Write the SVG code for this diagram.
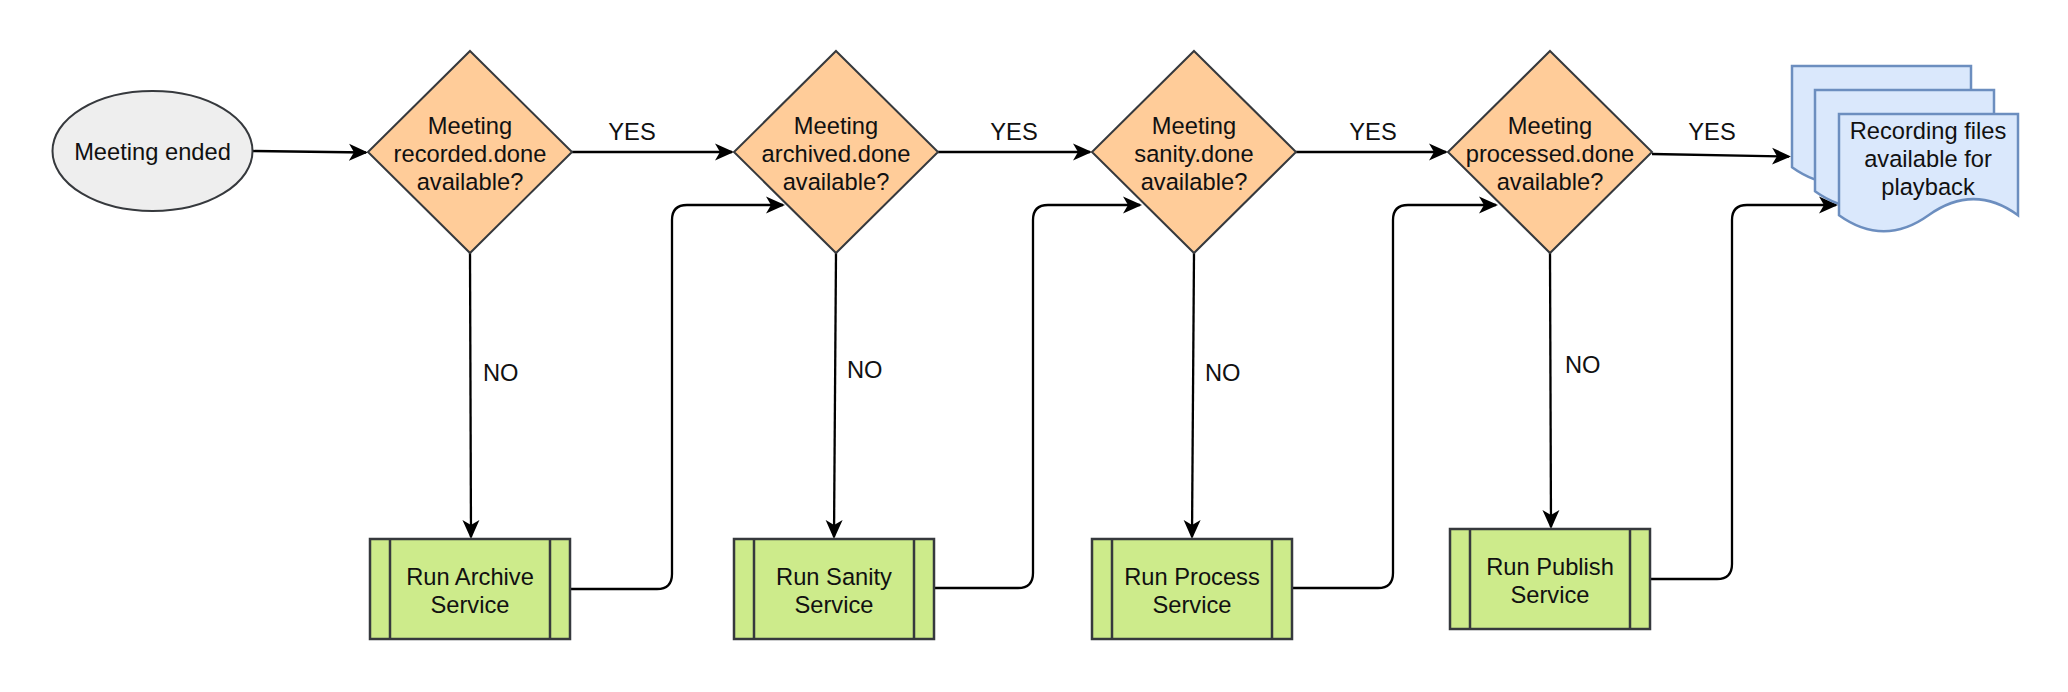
<svg xmlns="http://www.w3.org/2000/svg" width="2068" height="692" viewBox="0 0 2068 692">
<style>
  text { font-family: "Liberation Sans", Arial, sans-serif; font-size: 23.7px; fill: #111; }
  .c { text-anchor: middle; }
  .dia { fill: #ffcc99; stroke: #36393d; stroke-width: 2; }
  .proc { fill: #cdeb8b; stroke: #36393d; stroke-width: 2.5; }
  .doc { fill: #dae8fc; stroke: #6c8ebf; stroke-width: 2.5; }
  .start { fill: #eeeeee; stroke: #36393d; stroke-width: 2; }
  .edge { fill: none; stroke: #000; stroke-width: 2.3; marker-end: url(#arr); }
</style>
<defs>
  <marker id="arr" markerUnits="userSpaceOnUse" markerWidth="20" markerHeight="20" viewBox="0 0 20 20" refX="17" refY="9" orient="auto">
    <path d="M0,0.5 L19,9 L0,17.5 L5,9 Z" fill="#000"/>
  </marker>
</defs>
<rect width="2068" height="692" fill="#ffffff"/>

<g id="connectors">
  <path class="edge" d="M253,151 L366,152.5"/>
  <path class="edge" d="M572,152 L732,152"/>
  <path class="edge" d="M938,152 L1090,152"/>
  <path class="edge" d="M1296,152 L1446,152"/>
  <path class="edge" d="M1652,154 L1789,156.5"/>
  <path class="edge" d="M470,253 L471,537"/>
  <path class="edge" d="M836,253 L834,537"/>
  <path class="edge" d="M1194,253 L1192,537"/>
  <path class="edge" d="M1550,253 L1551,527"/>
  <path class="edge" d="M570,589 H657 Q672,589 672,574 V220 Q672,205 687,205 H783"/>
  <path class="edge" d="M934,588 H1018 Q1033,588 1033,573 V220 Q1033,205 1048,205 H1140"/>
  <path class="edge" d="M1292,588 H1378 Q1393,588 1393,573 V220 Q1393,205 1408,205 H1496"/>
  <path class="edge" d="M1650,579 H1717 Q1732,579 1732,564 V220 Q1732,205 1747,205 H1836"/>
  <text class="c" x="632" y="140">YES</text>
  <text class="c" x="1014" y="140">YES</text>
  <text class="c" x="1373" y="140">YES</text>
  <text class="c" x="1712" y="140">YES</text>
  <text x="483" y="381">NO</text>
  <text x="847" y="378">NO</text>
  <text x="1205" y="381">NO</text>
  <text x="1565" y="373">NO</text>
</g>

<g id="meeting-ended">
  <ellipse class="start" cx="152.5" cy="151" rx="100" ry="60"/>
  <text class="c" x="152.5" y="160">Meeting ended</text>
</g>

<g id="d-recorded">
  <polygon class="dia" points="470,51 572,152 470,253 368,152"/>
  <text class="c" x="470" y="134">Meeting</text>
  <text class="c" x="470" y="162">recorded.done</text>
  <text class="c" x="470" y="190">available?</text>
</g>
<g id="d-archived">
  <polygon class="dia" points="836,51 938,152 836,253 734,152"/>
  <text class="c" x="836" y="134">Meeting</text>
  <text class="c" x="836" y="162">archived.done</text>
  <text class="c" x="836" y="190">available?</text>
</g>
<g id="d-sanity">
  <polygon class="dia" points="1194,51 1296,152 1194,253 1092,152"/>
  <text class="c" x="1194" y="134">Meeting</text>
  <text class="c" x="1194" y="162">sanity.done</text>
  <text class="c" x="1194" y="190">available?</text>
</g>
<g id="d-processed">
  <polygon class="dia" points="1550,51 1652,152 1550,253 1448,152"/>
  <text class="c" x="1550" y="134">Meeting</text>
  <text class="c" x="1550" y="162">processed.done</text>
  <text class="c" x="1550" y="190">available?</text>
</g>

<g id="run-archive">
  <rect class="proc" x="370" y="539" width="200" height="100"/>
  <line class="proc" x1="390" y1="539" x2="390" y2="639"/>
  <line class="proc" x1="550" y1="539" x2="550" y2="639"/>
  <text class="c" x="470" y="585">Run Archive</text>
  <text class="c" x="470" y="613">Service</text>
</g>
<g id="run-sanity">
  <rect class="proc" x="734" y="539" width="200" height="100"/>
  <line class="proc" x1="754" y1="539" x2="754" y2="639"/>
  <line class="proc" x1="914" y1="539" x2="914" y2="639"/>
  <text class="c" x="834" y="585">Run Sanity</text>
  <text class="c" x="834" y="613">Service</text>
</g>
<g id="run-process">
  <rect class="proc" x="1092" y="539" width="200" height="100"/>
  <line class="proc" x1="1112" y1="539" x2="1112" y2="639"/>
  <line class="proc" x1="1272" y1="539" x2="1272" y2="639"/>
  <text class="c" x="1192" y="585">Run Process</text>
  <text class="c" x="1192" y="613">Service</text>
</g>
<g id="run-publish">
  <rect class="proc" x="1450" y="529" width="200" height="100"/>
  <line class="proc" x1="1470" y1="529" x2="1470" y2="629"/>
  <line class="proc" x1="1630" y1="529" x2="1630" y2="629"/>
  <text class="c" x="1550" y="575">Run Publish</text>
  <text class="c" x="1550" y="603">Service</text>
</g>

<g id="recording-files">
  <path class="doc" d="M1792,66 H1971 V167.2 Q1926.8,135 1881.5,167.2 Q1836.8,199.3 1792,167.2 Z"/>
  <path class="doc" d="M1815,90 H1994 V191.2 Q1949.8,159 1904.5,191.2 Q1859.8,223.3 1815,191.2 Z"/>
  <path class="doc" d="M1839,114 H2018 V215.2 Q1973.8,183 1928.5,215.2 Q1883.8,247.3 1839,215.2 Z"/>
  <text class="c" x="1928" y="139">Recording files</text>
  <text class="c" x="1928" y="167">available for</text>
  <text class="c" x="1928" y="195">playback</text>
</g>
</svg>
